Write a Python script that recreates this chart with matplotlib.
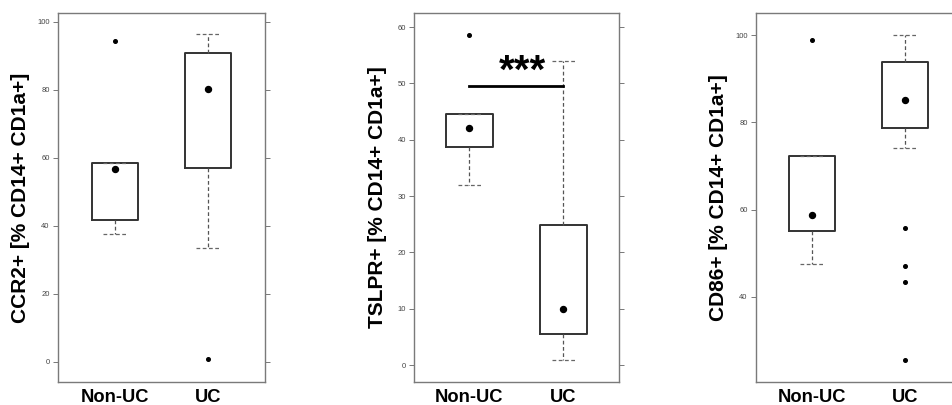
import matplotlib.pyplot as plt

plt.rcParams["font.family"] = ["Liberation Sans", "DejaVu Sans"]

groups = ["Non-UC", "UC"]

# per panel: y label, box stats (median, q1, q3, whisker low, whisker high), outliers
ccr2_label = "CCR2+ [% CD14+ CD1a+]"
ccr2_med = [56.7, 80.4]
ccr2_q1 = [41.6, 56.9]
ccr2_q3 = [58.5, 90.8]
ccr2_wlo = [37.7, 33.4]
ccr2_whi = [58.5, 96.3]
ccr2_out = [[94.4], [1.0]]

tslpr_label = "TSLPR+ [% CD14+ CD1a+]"
tslpr_med = [42.0, 10.0]
tslpr_q1 = [38.7, 5.6]
tslpr_q3 = [44.6, 24.9]
tslpr_wlo = [32.0, 0.9]
tslpr_whi = [44.6, 53.9]
tslpr_out = [[58.6], []]
tslpr_sig_y = 49.6
tslpr_sig_txt = "***"

cd86_label = "CD86+ [% CD14+ CD1a+]"
cd86_med = [58.85, 85.2]
cd86_q1 = [55.2, 78.8]
cd86_q3 = [72.3, 93.8]
cd86_wlo = [47.6, 74.25]
cd86_whi = [72.3, 100.1]
cd86_out = [[99.0], [55.8, 47.0, 43.4, 25.6]]

panels = [
    (ccr2_label, ccr2_med, ccr2_q1, ccr2_q3, ccr2_wlo, ccr2_whi, ccr2_out),
    (tslpr_label, tslpr_med, tslpr_q1, tslpr_q3, tslpr_wlo, tslpr_whi, tslpr_out),
    (cd86_label, cd86_med, cd86_q1, cd86_q3, cd86_wlo, cd86_whi, cd86_out),
]

W, H = 953, 405
ax_px = [(58, 207), (414.3, 204.7), (756, 205)]
xlims = [(0.385, 2.615), (0.415, 2.59), (0.4, 2.6)]
ylims = [(-5.9, 102.6), (-3.0, 62.5), (20.5, 105.1)]
yticks = [range(0, 101, 20), range(0, 61, 10), range(40, 101, 20)]

fig = plt.figure(figsize=(W / 100, H / 100), dpi=100)

axes = []
for i, (label, med, q1, q3, wlo, whi, out) in enumerate(panels):
    left, width = ax_px[i]
    ax = fig.add_axes([left / W, 1 - 382 / H, width / W, 369 / H])
    axes.append(ax)
    stats = []
    for j in range(len(groups)):
        stats.append(dict(med=med[j], q1=q1[j], q3=q3[j], whislo=wlo[j], whishi=whi[j],
                          fliers=out[j], label=groups[j]))
    ax.bxp(stats, positions=[1, 2], widths=0.5, showfliers=True,
           boxprops=dict(color="#333333", linewidth=1.4),
           whiskerprops=dict(color="#555555", linewidth=0.9, linestyle=(0, (3, 2))),
           capprops=dict(color="#666666", linewidth=0.9, linestyle=(0, (3, 2))),
           medianprops=dict(linestyle="none"),
           flierprops=dict(marker="o", markersize=2.6, markerfacecolor="black",
                           markeredgecolor="black"),
           zorder=2)
    ax.plot([1, 2], med, linestyle="none", marker="o", markersize=4.3, color="black", zorder=4)

    ax.set_xlim(*xlims[i])
    ax.set_ylim(*ylims[i])
    ax.set_yticks(list(yticks[i]))
    ax.set_xticks([1, 2])
    ax.set_xticklabels(groups, fontsize=13.2, fontweight="bold")
    ax.tick_params(axis="x", length=0, pad=5)
    ax.tick_params(axis="y", which="both", left=True, right=True, length=3.5, width=0.7,
                   color="#777777", labelsize=5.5, labelcolor="#444444", pad=2.5, direction="out")
    for sp in ax.spines.values():
        sp.set_color("#7a7a7a")
        sp.set_linewidth(1.0)
    ax.set_ylabel(label, fontsize=15, fontweight="bold", va="center")
    ax.yaxis.set_label_coords(-37 / width, 0.5)

# significance bar on TSLPR panel
ax2 = axes[1]
ax2.plot([1, 2], [tslpr_sig_y, tslpr_sig_y], color="black", linewidth=2.0, zorder=3)
ax2.text(1.56, tslpr_sig_y + 3.2, tslpr_sig_txt, ha="center", va="center_baseline",
         fontsize=29, fontweight="bold")

fig.savefig("out.png", dpi=100)
